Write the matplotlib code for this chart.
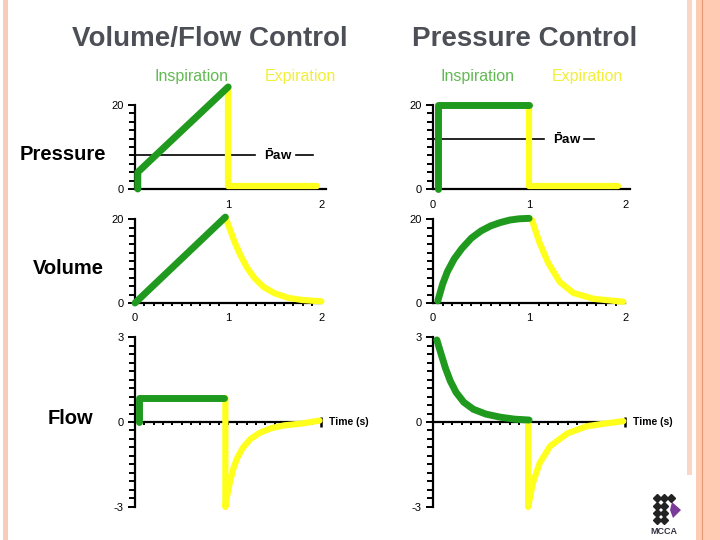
import matplotlib
matplotlib.use("Agg")
import matplotlib.pyplot as plt
from matplotlib.patches import Rectangle, Polygon
from matplotlib.ticker import MultipleLocator, FixedLocator

plt.rcParams['font.family'] = ['Liberation Sans', 'DejaVu Sans']
plt.rcParams['axes.unicode_minus'] = False
plt.rcParams['mathtext.fontset'] = 'custom'
plt.rcParams['mathtext.rm'] = 'Liberation Sans'
plt.rcParams['mathtext.bf'] = 'Liberation Sans:bold'

GREEN = '#1f9a1f'
YELLOW = '#ffff1e'

# ---- data ----
# Volume/Flow control, pressure
vf_p_insp_t = [0.03, 0.03, 1.0]
vf_p_insp_v = [0.0, 4.0, 24.3]
vf_p_exp_t = [1.0, 1.0, 1.95]
vf_p_exp_v = [24.3, 0.8, 0.8]
vf_paw = 8.1

# Volume/Flow control, volume
vf_v_insp_t = [0.0, 0.97]
vf_v_insp_v = [0.0, 20.5]
vf_v_exp_t = [0.97, 1.02, 1.07, 1.13, 1.20, 1.28, 1.38, 1.50, 1.65, 1.80, 2.0]
vf_v_exp_v = [20.5, 17.5, 14.5, 11.5, 8.5, 6.0, 3.8, 2.3, 1.2, 0.7, 0.4]

# Volume/Flow control, flow
vf_f_insp_t = [0.04, 0.04, 0.96]
vf_f_insp_v = [0.0, 0.85, 0.85]
vf_f_exp_t = [0.97, 0.97, 0.99, 1.02, 1.06, 1.10, 1.16, 1.24, 1.34, 1.46, 1.60, 1.80, 1.98]
vf_f_exp_v = [0.85, -3.0, -2.6, -2.1, -1.6, -1.25, -0.9, -0.6, -0.38, -0.22, -0.12, -0.05, 0.05]

# Pressure control, pressure
pc_p_insp_t = [0.05, 0.05, 1.0]
pc_p_insp_v = [0.0, 20.0, 20.0]
pc_p_exp_t = [1.0, 1.0, 1.93]
pc_p_exp_v = [20.0, 0.8, 0.8]
pc_paw = 11.9

# Pressure control, volume
pc_v_insp_t = [0.05, 0.10, 0.15, 0.22, 0.30, 0.40, 0.50, 0.60, 0.70, 0.80, 0.90, 1.0]
pc_v_insp_v = [0.5, 4.5, 7.5, 10.5, 13.0, 15.5, 17.2, 18.4, 19.2, 19.8, 20.1, 20.2]
pc_v_exp_t = [1.0, 1.03, 1.07, 1.11, 1.20, 1.32, 1.46, 1.67, 1.98]
pc_v_exp_v = [20.2, 19.8, 17.0, 14.3, 9.5, 5.0, 2.4, 1.0, 0.3]

# Pressure control, flow
pc_f_insp_t = [0.04, 0.08, 0.13, 0.18, 0.24, 0.32, 0.42, 0.55, 0.70, 0.85, 1.0]
pc_f_insp_v = [2.9, 2.45, 1.9, 1.45, 1.05, 0.7, 0.45, 0.28, 0.17, 0.1, 0.07]
pc_f_exp_t = [0.99, 0.99, 1.04, 1.11, 1.22, 1.40, 1.60, 1.80, 1.98]
pc_f_exp_v = [0.05, -3.0, -2.15, -1.45, -0.85, -0.4, -0.15, -0.05, 0.03]

W, H = 720, 540
fig = plt.figure(figsize=(7.2, 5.4), dpi=100)

# background axes in pixel coordinates for decorations
bg = fig.add_axes([0, 0, 1, 1])
bg.set_xlim(0, W)
bg.set_ylim(H, 0)
bg.axis('off')
bg.add_patch(Rectangle((3, 0), 5, H, color='#f8ccb9', lw=0))
bg.add_patch(Rectangle((687, 0), 5, 475, color='#fbd6c5', lw=0))
bg.add_patch(Rectangle((696, 0), 24, H, color='#ffcbb3', lw=0))
bg.plot([702, 702], [0, H], color='#e79a72', lw=0.8)

# logo
for r in range(3):
    for cx in (657, 664, 671):
        if r == 0 or cx < 671:
            bg.plot(cx, 498 + r * 7.5, marker='D', ms=4.5, color='#222222')
bg.plot(664, 520, marker='D', ms=4.5, color='#222222')
bg.plot(657, 520, marker='D', ms=4.5, color='#222222')
bg.add_patch(Polygon([[672, 502], [681, 510], [673, 518], [670, 510]], color='#7a3a9a', lw=0))
bg.text(664, 531, 'MCCA', fontsize=6.5, fontweight='bold', ha='center', va='center', color='#333344')

# titles
bg.text(210, 39, 'Volume/Flow Control', fontsize=20, fontweight='bold', color='#4c5056',
        ha='center', va='center')
bg.text(525, 39, 'Pressure Control', fontsize=20, fontweight='bold', color='#4c5056',
        ha='center', va='center')
for cx in (191, 478):
    bg.text(cx, 76, 'Inspiration', fontsize=11.5, color='#62ba52', ha='center', va='center')
for cx in (300, 587):
    bg.text(cx, 76, 'Expiration', fontsize=11.5, color='#f2ef3a', ha='center', va='center')
bg.text(63, 154, 'Pressure', fontsize=14.5, fontweight='bold', ha='center', va='center')
bg.text(68, 268, 'Volume', fontsize=14.5, fontweight='bold', ha='center', va='center')
bg.text(70, 418, 'Flow', fontsize=14.5, fontweight='bold', ha='center', va='center')


def px_axes(x0, x1, ybot, ytop):
    ax = fig.add_axes([x0 / W, 1 - ybot / H, (x1 - x0) / W, (ybot - ytop) / H])
    ax.patch.set_alpha(0)
    for s in ('top', 'right'):
        ax.spines[s].set_visible(False)
    for s in ('left', 'bottom'):
        ax.spines[s].set_linewidth(1.6)
    ax.set_xlim(0, 2.05)
    ax.tick_params(labelsize=8, width=1.4)
    ax.tick_params(which='minor', width=1.4)
    return ax


def draw(ax, t1, v1, t2, v2):
    ax.plot(t2, v2, color=YELLOW, lw=4.5, solid_capstyle='round', solid_joinstyle='round',
            clip_on=False, zorder=3)
    ax.plot(t1, v1, color=GREEN, lw=5, solid_capstyle='round', solid_joinstyle='round',
            clip_on=False, zorder=4)


def pressure_panel(x0, x1, t1, v1, t2, v2, paw, paw_end, txt_x, dash, xlabels):
    ax = px_axes(x0, x1, 189, 84)
    ax.set_ylim(0, 25)
    ax.spines['left'].set_bounds(0, 20)
    ax.set_yticks([0, 20])
    ax.yaxis.set_minor_locator(FixedLocator(list(range(2, 20, 2))))
    ax.tick_params(axis='y', which='major', length=5, pad=3)
    ax.tick_params(axis='y', which='minor', length=4)
    ax.set_xticks(xlabels)
    ax.tick_params(axis='x', length=0, pad=8)
    draw(ax, t1, v1, t2, v2)
    ax.plot([0, paw_end], [paw, paw], color='black', lw=1.2, zorder=2)
    ax.text(txt_x, paw, r'$\mathbf{\bar{P}aw}$', fontsize=9.5, va='center', ha='left')
    ax.plot(dash, [paw, paw], color='black', lw=1.2)
    return ax


def volume_panel(x0, x1, t1, v1, t2, v2):
    ax = px_axes(x0, x1, 303, 215)
    ax.set_ylim(0, 21)
    ax.spines['left'].set_bounds(0, 20)
    ax.spines['bottom'].set_bounds(0, 2.0)
    ax.set_yticks([0, 20])
    ax.yaxis.set_minor_locator(FixedLocator(list(range(2, 20, 2))))
    ax.set_xticks([0, 1, 2])
    ax.xaxis.set_minor_locator(MultipleLocator(0.1))
    ax.tick_params(axis='y', which='major', length=5, pad=3)
    ax.tick_params(axis='y', which='minor', length=4)
    ax.tick_params(axis='x', which='major', length=0, pad=7)
    ax.tick_params(axis='x', which='minor', length=2)
    draw(ax, t1, v1, t2, v2)
    return ax


def flow_panel(x0, x1, t1, v1, t2, v2):
    ax = px_axes(x0, x1, 509.7, 334.3)
    ax.set_ylim(-3.1, 3.1)
    ax.spines['left'].set_bounds(-3, 3)
    ax.spines['bottom'].set_position(('data', 0))
    ax.spines['bottom'].set_bounds(0, 2.0)
    ax.set_yticks([-3, 0, 3])
    ax.yaxis.set_minor_locator(MultipleLocator(0.3))
    ax.set_xticks([2])
    ax.set_xticklabels([])
    ax.xaxis.set_minor_locator(MultipleLocator(0.1))
    ax.tick_params(axis='y', which='major', length=5, pad=3)
    ax.tick_params(axis='y', which='minor', length=4)
    ax.tick_params(axis='x', which='major', direction='inout', length=7, width=1.8)
    ax.tick_params(axis='x', which='minor', length=2)
    draw(ax, t1, v1, t2, v2)
    ax.text(2.08, 0, 'Time (s)', fontsize=7.5, fontweight='bold', va='center', ha='left')
    return ax


pressure_panel(135, 326, vf_p_insp_t, vf_p_insp_v, vf_p_exp_t, vf_p_exp_v,
               vf_paw, 1.29, 1.38, [1.73, 1.91], [1, 2])
pressure_panel(433, 630, pc_p_insp_t, pc_p_insp_v, pc_p_exp_t, pc_p_exp_v,
               pc_paw, 1.15, 1.25, [1.57, 1.68], [0, 1, 2])
volume_panel(135, 326, vf_v_insp_t, vf_v_insp_v, vf_v_exp_t, vf_v_exp_v)
volume_panel(433, 630, pc_v_insp_t, pc_v_insp_v, pc_v_exp_t, pc_v_exp_v)
flow_panel(135, 326, vf_f_insp_t, vf_f_insp_v, vf_f_exp_t, vf_f_exp_v)
flow_panel(433, 630, pc_f_insp_t, pc_f_insp_v, pc_f_exp_t, pc_f_exp_v)

fig.savefig('out.png', dpi=100)
